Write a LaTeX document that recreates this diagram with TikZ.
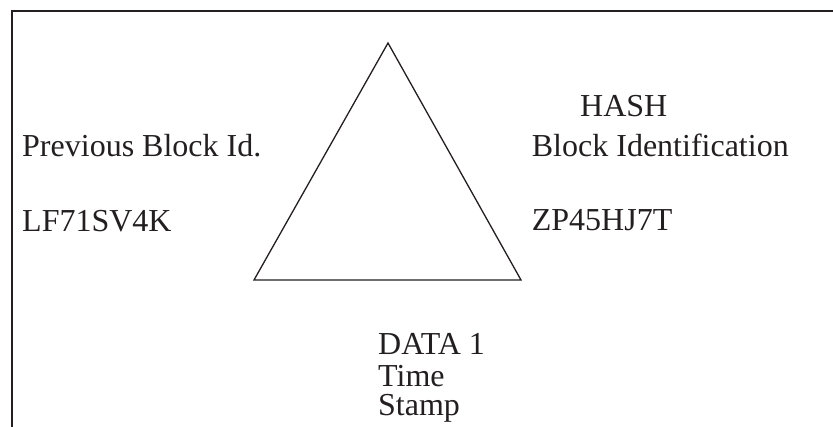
\documentclass[tikz,border=0pt]{standalone}
\usepackage{fontspec}
\setmainfont{Liberation Serif}
\usetikzlibrary{positioning}
\definecolor{ink}{RGB}{35,31,32}

\begin{document}
\begin{tikzpicture}[
    x=1pt, y=-1pt,
    txt/.style={
        anchor=base west, inner sep=0pt, text=ink,
        font=\fontsize{32}{31}\selectfont
    },
    frame/.style={draw=ink, line width=2pt},
    tri/.style={draw=ink, line width=1.3pt, line join=miter},
]

\clip (0,0) rectangle (833,427);

% Outer frame (runs off the right and bottom edge)
\draw[frame] (12,11) rectangle (860,460);

% Block triangle
\coordinate (apex) at (388,43);
\coordinate (bl) at (254,280);
\coordinate (br) at (521,280);
\draw[tri] (apex) -- (br) -- (bl) -- cycle;

% Left side: previous block
\node[txt] (prev) at (22,156.7) {Previous Block Id.};
\node[txt] (previd) at (22,231.7) {LF71SV4K};

% Right side: hash of this block
\node[txt] (hash) at (580,116.7) {HASH};
\node[txt] (blockid) at (531.7,156.7) {Block Identification};
\node[txt] (hashid) at (531.7,230.5) {ZP45HJ7T};

% Below: data and time stamp
\node[txt] (data) at (378,355) {DATA 1};
\node[txt] (time) at (378,386.5) {Time};
\node[txt] (stamp) at (378,416) {Stamp};

\end{tikzpicture}
\end{document}
